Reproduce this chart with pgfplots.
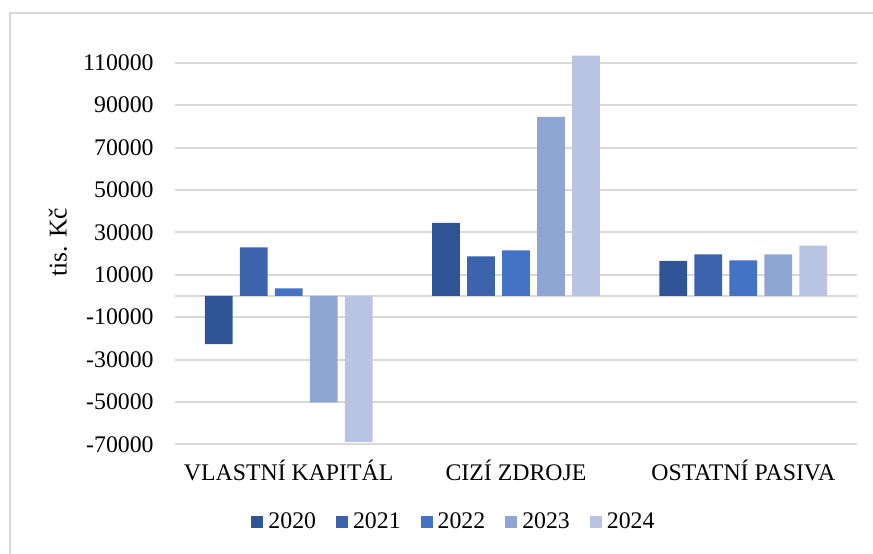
\documentclass[border=0pt]{standalone}
\usepackage{pgfplots}
\pgfplotsset{compat=1.18}
\usepackage{fontspec}
\setmainfont{Liberation Serif}
\definecolor{c20}{HTML}{2F5597}
\definecolor{c21}{HTML}{3B64AD}
\definecolor{c22}{HTML}{4472C4}
\definecolor{c23}{HTML}{8FA5D4}
\definecolor{c24}{HTML}{B9C4E3}
\definecolor{gridgray}{HTML}{D9D9D9}
\begin{document}
\fontsize{11.9bp}{14bp}\selectfont
\begin{tikzpicture}
\useasboundingbox (0,0) rectangle (436.5bp,-277bp);
\draw[color=gridgray, line width=1bp] (5bp,-277bp) -- (5bp,-6.5bp) -- (436.5bp,-6.5bp);
\node[rotate=90, font=\fontsize{12.8bp}{15bp}\selectfont] at (29bp,-121.25bp) {tis. Kč};
\begin{axis}[
  at={(87.5bp,-222.15bp)}, anchor=south west,
  scale only axis, width=341bp, height=197.15bp,
  xmin=-0.5, xmax=2.5, ymin=-70000, ymax=116000,
  scaled y ticks=false,
  ybar=3.65bp, bar width=13.85bp,
  xtick={0,1,2},
  xticklabels={VLASTNÍ KAPITÁL, CIZÍ ZDROJE, OSTATNÍ PASIVA},
  xticklabel style={anchor=base, yshift=-17.85bp, inner sep=0pt},
  ytick={-70000,-50000,-30000,-10000,10000,30000,50000,70000,90000,110000},
  yticklabels={-70000,-50000,-30000,-10000,10000,30000,50000,70000,90000,110000},
  yticklabel style={inner sep=0pt, xshift=-10.5bp},
  extra y ticks={0}, extra y tick labels={},
  extra y tick style={grid=major},
  ymajorgrids,
  grid style={gridgray, line width=1bp},
  axis line style={draw=none},
  major tick length=0pt,
  legend columns=5,
  legend image code/.code={\fill[#1] (0bp,-3bp) rectangle (6bp,3bp);},
  legend style={draw=none, fill=none, at={(0.4076,-0.197)}, anchor=center,
    inner sep=0pt, nodes={inner sep=0pt},
    /tikz/every odd column/.append style={column sep=2.5bp},
    /tikz/every even column/.append style={column sep=10bp}},
]
\addplot[fill=c20, draw=none] coordinates {(0,-22800) (1,34500) (2,16500)};
\addplot[fill=c21, draw=none] coordinates {(0,22900) (1,18700) (2,19600)};
\addplot[fill=c22, draw=none] coordinates {(0,3600) (1,21500) (2,16800)};
\addplot[fill=c23, draw=none] coordinates {(0,-50200) (1,84500) (2,19600)};
\addplot[fill=c24, draw=none] coordinates {(0,-68800) (1,113300) (2,23700)};
\legend{2020,2021,2022,2023,2024}
\end{axis}
\end{tikzpicture}
\end{document}
